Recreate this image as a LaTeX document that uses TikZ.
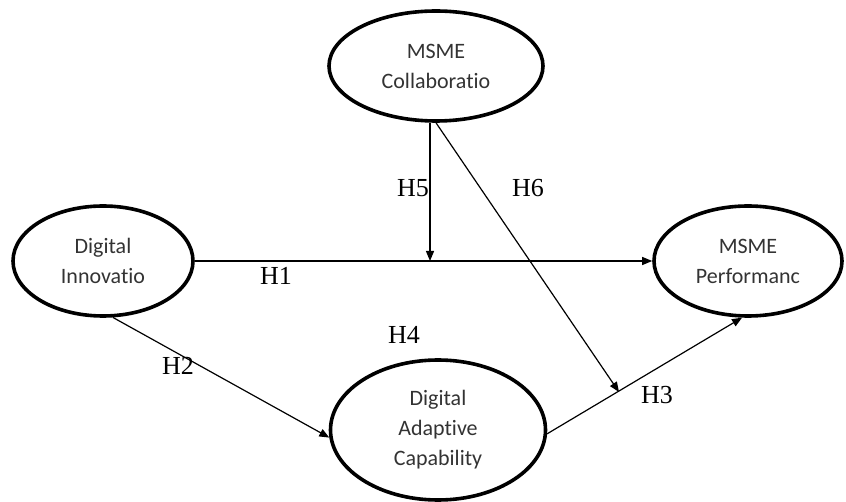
\documentclass[tikz,border=0pt]{standalone}
\usepackage{fontspec}
\setmainfont{Liberation Serif}
\setsansfont{Carlito}[RawFeature=-liga]
\usetikzlibrary{shapes.geometric,arrows.meta}

\begin{document}
\begin{tikzpicture}[x=1pt,y=-1pt,
   construct/.style={ellipse, draw, line width=3.6pt, inner sep=0pt, align=center,
      font=\sffamily\fontsize{22}{30}\selectfont, text=black!80},
   path/.style={line width=1.2pt, -{Triangle[length=10pt,width=8pt]}},
   hyp/.style={font=\fontsize{26}{26}\selectfont}]
   \useasboundingbox (0,0) rectangle (846,502);

   \node[construct, minimum width=214pt, minimum height=110pt] (collab) at (436,66) {MSME\\Collaboratio};
   \node[construct, minimum width=180pt, minimum height=110pt] (innov) at (103,261) {Digital\\Innovatio};
   \node[construct, minimum width=188pt, minimum height=110pt] (perf) at (748,261) {MSME\\Performanc};
   \node[construct, minimum width=215pt, minimum height=140pt] (adapt) at (438,430) {Digital\\Adaptive\\Capability};

   \coordinate (h5end) at (430,261);
   \coordinate (h6end) at (619,392);

   \draw[path] (innov.east) -- (perf.west);
   \draw[path] (collab.south -| h5end) -- (h5end);
   \draw[path] (collab.south) -- (h6end);
   \draw[path] (innov.-80) -- (adapt.-176);
   \draw[path] (adapt.-2) -- (perf.-96);

   \node[hyp] (H1) at (276,276) {H1};
   \node[hyp] (H2) at (178,366) {H2};
   \node[hyp] (H3) at (657,395) {H3};
   \node[hyp] (H4) at (404,335) {H4};
   \node[hyp] (H5) at (413,188) {H5};
   \node[hyp] (H6) at (528,188) {H6};
\end{tikzpicture}
\end{document}
